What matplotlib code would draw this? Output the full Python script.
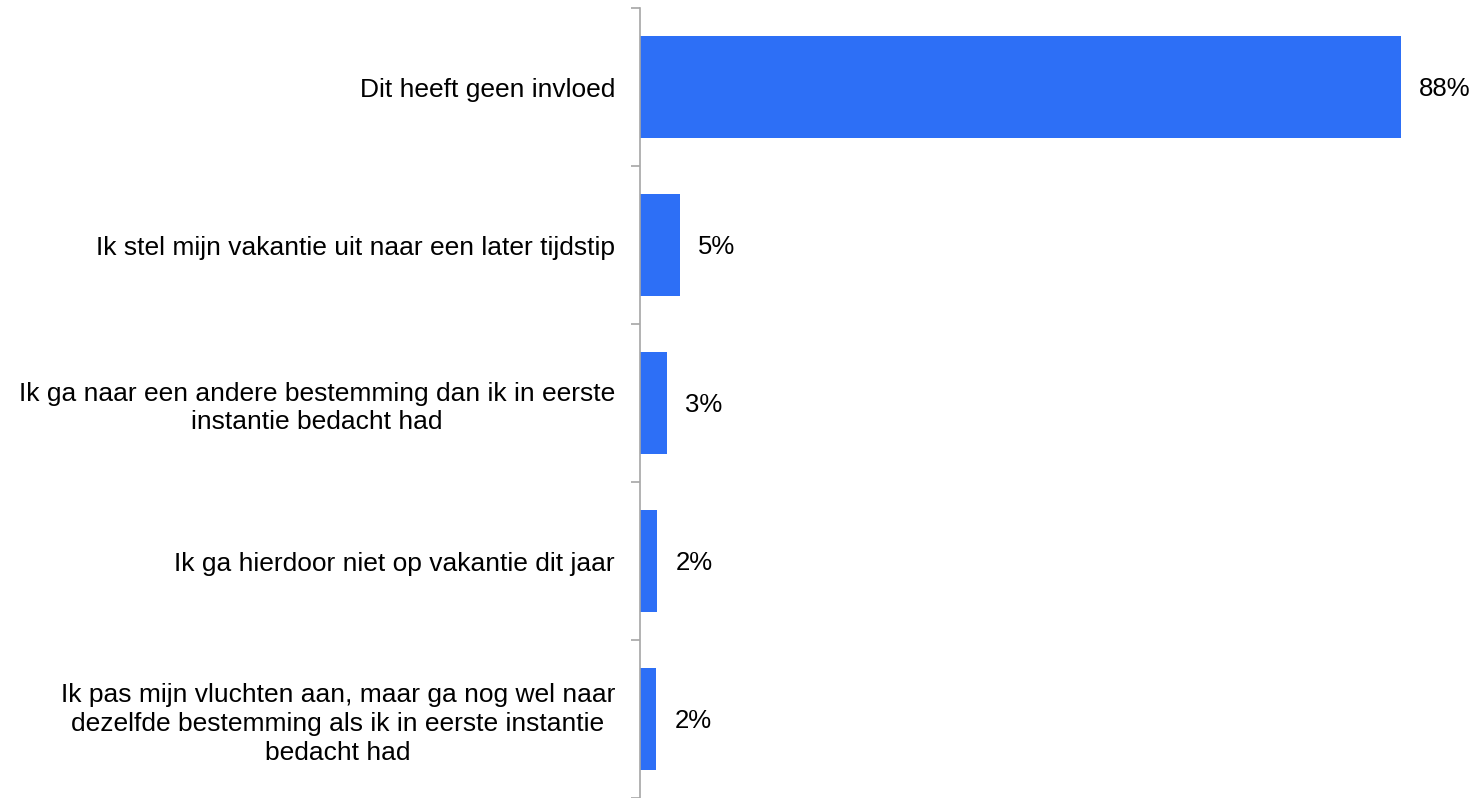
import numpy as np
import matplotlib
matplotlib.use('Agg')
import matplotlib.pyplot as plt
from matplotlib.ticker import FixedLocator

plt.rcParams['font.family'] = ['Liberation Sans', 'DejaVu Sans']

categories = [
    'Dit heeft geen invloed',
    'Ik stel mijn vakantie uit naar een later tijdstip',
    'Ik ga naar een andere bestemming dan ik in eerste\ninstantie bedacht had',
    'Ik ga hierdoor niet op vakantie dit jaar',
    'Ik pas mijn vluchten aan, maar ga nog wel naar\ndezelfde bestemming als ik in eerste instantie\nbedacht had',
]
values = [88.0, 4.6, 3.1, 2.0, 1.9]
value_labels = ['88%', '5%', '3%', '2%', '2%']

bar_color = '#2D6FF6'
axis_color = '#A6A6A6'

fig = plt.figure(figsize=(14.74, 7.98), dpi=100)
ax = fig.add_axes([640 / 1474, 0.0, 1 - 640 / 1474, 1 - 8 / 798])

y = np.arange(len(categories))
ax.barh(y, values, height=0.65, color=bar_color)
ax.set_ylim(len(categories) - 0.5, -0.5)
ax.set_xlim(0, 96.5)

for yi, v, lab in zip(y, values, value_labels):
    ax.annotate(lab, xy=(v, yi), xytext=(13, 0), textcoords='offset points',
                ha='left', va='center_baseline', fontsize=18.5, color='black')

ax.set_yticks(y)
ax.set_yticklabels(categories, fontsize=19, ha='right', multialignment='center',
                   linespacing=1.25)
ax.tick_params(axis='y', which='major', length=0, pad=18)
ax.yaxis.set_minor_locator(FixedLocator(np.arange(len(categories) + 1) - 0.5))
ax.tick_params(axis='y', which='minor', length=6.5, width=1.2, color=axis_color)
ax.set_xticks([])

for side in ['top', 'right', 'bottom']:
    ax.spines[side].set_visible(False)
ax.spines['left'].set_color(axis_color)
ax.spines['left'].set_linewidth(1.2)

fig.savefig('out.png', dpi=100)
